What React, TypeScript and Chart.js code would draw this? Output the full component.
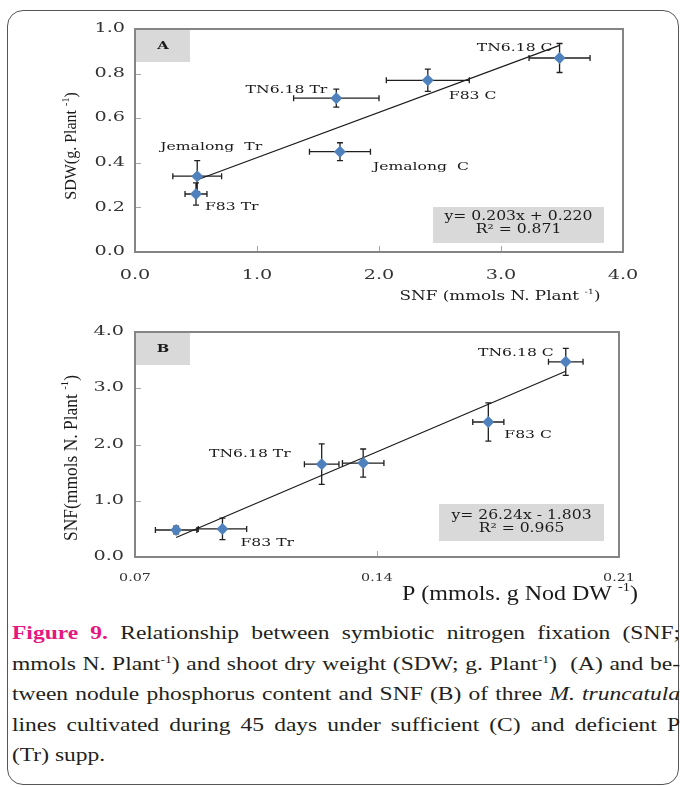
import React, { useEffect, useRef } from 'react';
import { Chart, registerables } from 'chart.js';

Chart.register(...registerables);

const WIDE = '"DejaVu Serif", serif';
const TIMES = '"Liberation Serif", "Times New Roman", serif';

// ---- Panel A: symbiotic N fixation (x) vs shoot dry weight (y) ----
const namesA = ['Jemalong  Tr', 'F83 Tr', 'TN6.18 Tr', 'Jemalong  C', 'F83 C', 'TN6.18 C'];
const snfA = [0.51, 0.5, 1.65, 1.68, 2.4, 3.48];
const snfErrA = [0.2, 0.09, 0.35, 0.25, 0.34, 0.25];
const sdwA = [0.34, 0.26, 0.69, 0.45, 0.77, 0.87];
const sdwErrA = [0.07, 0.05, 0.04, 0.04, 0.05, 0.065];
const fitA = { slope: 0.203, intercept: 0.22, r2: 0.871 };
const xTicksA = [0, 1, 2, 3, 4];
const yTicksA = [0, 0.2, 0.4, 0.6, 0.8, 1.0];

// ---- Panel B: nodule P content (x) vs symbiotic N fixation (y) ----
const namesB = ['', 'F83 Tr', 'TN6.18 Tr', '', 'F83 C', 'TN6.18 C'];
const pB = [0.0819, 0.0953, 0.124, 0.136, 0.1722, 0.1946];
const pErrB = [0.006, 0.007, 0.005, 0.006, 0.0045, 0.005];
const snfB = [0.48, 0.5, 1.65, 1.67, 2.4, 3.47];
const snfErrB = [0.07, 0.19, 0.36, 0.25, 0.34, 0.24];
const fitB = { slope: 26.24, intercept: -1.803, r2: 0.965 };
const xTicksB = [0.07, 0.14, 0.21];
const yTicksB = [0, 1, 2, 3, 4];

type Align = 'left' | 'right' | 'center';
type Part = { t: string; sup?: boolean; bold?: boolean };
type TextStyle = { family: string; size: number; sx: number; color: string; bold?: boolean };

// Draws a run of text parts (with optional superscripts), stretched horizontally by sx.
function drawRich(ctx: CanvasRenderingContext2D, parts: Part[], x: number, y: number, align: Align, s: TextStyle) {
  ctx.save();
  ctx.fillStyle = s.color;
  ctx.textBaseline = 'middle';
  ctx.textAlign = 'left';
  const fonts = parts.map((p) => {
    const size = p.sup ? Math.round(s.size * 0.62) : s.size;
    return `${p.bold || s.bold ? 'bold ' : ''}${size}px ${s.family}`;
  });
  const widths = parts.map((p, i) => {
    ctx.font = fonts[i];
    return ctx.measureText(p.t).width * s.sx;
  });
  const total = widths.reduce((a, b) => a + b, 0);
  let cx = align === 'center' ? x - total / 2 : align === 'right' ? x - total : x;
  parts.forEach((p, i) => {
    ctx.save();
    ctx.translate(cx, y + (p.sup ? -s.size * 0.38 : 0));
    ctx.scale(s.sx, 1);
    ctx.font = fonts[i];
    ctx.fillText(p.t, 0, 0);
    ctx.restore();
    cx += widths[i];
  });
  ctx.restore();
}

type LabelPos = { dx: number; dy: number; align: Align } | null;

interface PanelSpec {
  letter: string;
  names: string[];
  xs: number[];
  xErr: number[];
  ys: number[];
  yErr: number[];
  fit: { slope: number; intercept: number; r2: number };
  slopeDigits: number;
  xTicks: number[];
  yTicks: number[];
  xDigits: number;
  yDigits: number;
  height: number;
  padding: { left: number; top: number; right: number; bottom: number };
  labelPos: LabelPos[];
  eqBox: { dRight: number; dBottom: number; w: number; h: number; l1: number; l2: number };
  xTick: { dy: number; style: TextStyle };
  yTick: { dx: number; style: TextStyle };
  xTitle: { parts: Part[]; x: number; y: number; style: TextStyle };
  yTitle: { parts: Part[]; x: number; y: number; style: TextStyle };
}

const labelStyle: TextStyle = { family: WIDE, size: 11, sx: 1.42, color: '#1a1a1a' };
const eqStyle: TextStyle = { family: WIDE, size: 12, sx: 1.3, color: '#1a1a1a' };
const letterStyle: TextStyle = { family: WIDE, size: 11, sx: 1.35, color: '#1a1a1a', bold: true };

function decorPlugin(spec: PanelSpec) {
  return {
    id: 'panelDecor',
    beforeDatasetsDraw(chart: any) {
      const { ctx, chartArea: a } = chart;
      const sx = chart.scales.x;
      const sy = chart.scales.y;
      ctx.save();
      // panel letter box
      ctx.fillStyle = '#d9d9d9';
      ctx.fillRect(a.left + 1, a.top + 1, 54, 32);
      // regression equation box
      const eb = spec.eqBox;
      ctx.fillRect(a.right - eb.dRight - eb.w, a.bottom - eb.dBottom - eb.h, eb.w, eb.h);
      // inward tick marks
      ctx.strokeStyle = '#a6a6a6';
      ctx.lineWidth = 1;
      ctx.beginPath();
      spec.yTicks.forEach((v) => {
        const py = Math.round(sy.getPixelForValue(v)) + 0.5;
        ctx.moveTo(a.left, py);
        ctx.lineTo(a.left + 6, py);
      });
      spec.xTicks.forEach((v) => {
        const px = Math.round(sx.getPixelForValue(v)) + 0.5;
        ctx.moveTo(px, a.bottom);
        ctx.lineTo(px, a.bottom - 6);
      });
      ctx.stroke();
      // plot frame
      ctx.strokeStyle = '#858585';
      ctx.lineWidth = 2;
      ctx.strokeRect(a.left, a.top, a.right - a.left, a.bottom - a.top);
      // error bars
      ctx.strokeStyle = '#1f1f1f';
      ctx.lineWidth = 1.3;
      const cap = 3;
      ctx.beginPath();
      spec.xs.forEach((xv, i) => {
        const yv = spec.ys[i];
        const py = sy.getPixelForValue(yv);
        const px = sx.getPixelForValue(xv);
        const x0 = sx.getPixelForValue(xv - spec.xErr[i]);
        const x1 = sx.getPixelForValue(xv + spec.xErr[i]);
        const y0 = sy.getPixelForValue(yv - spec.yErr[i]);
        const y1 = sy.getPixelForValue(yv + spec.yErr[i]);
        ctx.moveTo(x0, py); ctx.lineTo(x1, py);
        ctx.moveTo(x0, py - cap); ctx.lineTo(x0, py + cap);
        ctx.moveTo(x1, py - cap); ctx.lineTo(x1, py + cap);
        ctx.moveTo(px, y0); ctx.lineTo(px, y1);
        ctx.moveTo(px - cap, y0); ctx.lineTo(px + cap, y0);
        ctx.moveTo(px - cap, y1); ctx.lineTo(px + cap, y1);
      });
      ctx.stroke();
      ctx.restore();
    },
    afterDatasetsDraw(chart: any) {
      const { ctx, chartArea: a } = chart;
      const sx = chart.scales.x;
      const sy = chart.scales.y;
      // tick labels from the scales' ticks
      sy.ticks.forEach((t: any) => {
        drawRich(ctx, [{ t: t.value.toFixed(spec.yDigits) }], a.left - spec.yTick.dx, sy.getPixelForValue(t.value), 'right', spec.yTick.style);
      });
      sx.ticks.forEach((t: any) => {
        drawRich(ctx, [{ t: t.value.toFixed(spec.xDigits) }], sx.getPixelForValue(t.value), a.bottom + spec.xTick.dy, 'center', spec.xTick.style);
      });
      // axis titles
      drawRich(ctx, spec.xTitle.parts, spec.xTitle.x, spec.xTitle.y, 'center', spec.xTitle.style);
      ctx.save();
      ctx.translate(spec.yTitle.x, spec.yTitle.y);
      ctx.rotate(-Math.PI / 2);
      drawRich(ctx, spec.yTitle.parts, 0, 0, 'center', spec.yTitle.style);
      ctx.restore();
      // panel letter
      drawRich(ctx, [{ t: spec.letter }], a.left + 28, a.top + 17, 'center', letterStyle);
      // point labels
      spec.names.forEach((name, i) => {
        const lp = spec.labelPos[i];
        if (!name || !lp) return;
        const px = sx.getPixelForValue(spec.xs[i]);
        const py = sy.getPixelForValue(spec.ys[i]);
        drawRich(ctx, [{ t: name }], px + lp.dx, py + lp.dy, lp.align, labelStyle);
      });
      // regression equation
      const f = spec.fit;
      const eb = spec.eqBox;
      const bx = a.right - eb.dRight - eb.w / 2;
      const by = a.bottom - eb.dBottom - eb.h;
      const sign = f.intercept < 0 ? ' - ' : ' + ';
      const eq = `y= ${f.slope.toFixed(spec.slopeDigits)}x${sign}${Math.abs(f.intercept).toFixed(3)}`;
      drawRich(ctx, [{ t: eq }], bx, by + eb.l1, 'center', eqStyle);
      drawRich(ctx, [{ t: `R² = ${f.r2.toFixed(3)}` }], bx, by + eb.l2, 'center', eqStyle);
    },
  };
}

function buildConfig(spec: PanelSpec): any {
  const xMin = Math.min(...spec.xs);
  const xMax = Math.max(...spec.xs);
  const trend = [xMin, xMax].map((x) => ({ x, y: spec.fit.slope * x + spec.fit.intercept }));
  const points = spec.xs.map((x, i) => ({ x, y: spec.ys[i] }));
  const xT = spec.xTicks;
  const yT = spec.yTicks;
  return {
    type: 'scatter',
    data: {
      datasets: [
        {
          data: trend,
          showLine: true,
          borderColor: '#1a1a1a',
          borderWidth: 1.2,
          pointRadius: 0,
          order: 2,
        },
        {
          data: points,
          pointStyle: 'rectRot',
          pointRadius: 6,
          backgroundColor: '#4f81bd',
          borderColor: '#4f81bd',
          borderWidth: 0,
          order: 1,
        },
      ],
    },
    options: {
      animation: false,
      responsive: false,
      maintainAspectRatio: false,
      layout: { padding: spec.padding },
      plugins: { legend: { display: false }, tooltip: { enabled: false } },
      scales: {
        x: {
          type: 'linear',
          min: xT[0],
          max: xT[xT.length - 1],
          afterBuildTicks: (s: any) => { s.ticks = xT.map((v) => ({ value: v })); },
          afterFit: (s: any) => { s.height = 40; },
          ticks: { display: false },
          grid: { display: false, drawTicks: false },
          border: { display: false },
        },
        y: {
          type: 'linear',
          min: yT[0],
          max: yT[yT.length - 1],
          afterBuildTicks: (s: any) => { s.ticks = yT.map((v) => ({ value: v })); },
          afterFit: (s: any) => { s.width = 60; },
          ticks: { display: false },
          grid: { display: false, drawTicks: false },
          border: { display: false },
        },
      },
    },
    plugins: [decorPlugin(spec)],
  };
}

const tickStyleA: TextStyle = { family: WIDE, size: 12, sx: 1.6, color: '#333333' };

const specA: PanelSpec = {
  letter: 'A',
  names: namesA,
  xs: snfA,
  xErr: snfErrA,
  ys: sdwA,
  yErr: sdwErrA,
  fit: fitA,
  slopeDigits: 3,
  xTicks: xTicksA,
  yTicks: yTicksA,
  xDigits: 1,
  yDigits: 1,
  height: 305,
  padding: { left: 75, top: 29, right: 57, bottom: 13 },
  labelPos: [
    { dx: 14, dy: -29, align: 'center' },
    { dx: 9, dy: 13, align: 'left' },
    { dx: -9, dy: -8, align: 'right' },
    { dx: 33, dy: 15, align: 'left' },
    { dx: 21, dy: 16, align: 'left' },
    { dx: -7, dy: -10, align: 'right' },
  ],
  eqBox: { dRight: 19, dBottom: 9, w: 171, h: 36, l1: 10, l2: 23 },
  xTick: { dy: 24, style: tickStyleA },
  yTick: { dx: 10, style: tickStyleA },
  xTitle: {
    parts: [{ t: 'SNF (mmols N. Plant ' }, { t: '-1', sup: true }, { t: ')' }],
    x: 500,
    y: 297,
    style: { family: WIDE, size: 12, sx: 1.4, color: '#1a1a1a' },
  },
  yTitle: {
    parts: [{ t: 'SDW(g. Plant ' }, { t: '-1', sup: true }, { t: ')' }],
    x: 72,
    y: 146,
    style: { family: TIMES, size: 16, sx: 1, color: '#1a1a1a' },
  },
};

const specB: PanelSpec = {
  letter: 'B',
  names: namesB,
  xs: pB,
  xErr: pErrB,
  ys: snfB,
  yErr: snfErrB,
  fit: fitB,
  slopeDigits: 2,
  xTicks: xTicksB,
  yTicks: yTicksB,
  xDigits: 2,
  yDigits: 1,
  height: 305,
  padding: { left: 75, top: 27, right: 61, bottom: 13 },
  labelPos: [
    null,
    { dx: 18, dy: 14, align: 'left' },
    { dx: -31, dy: -10, align: 'right' },
    null,
    { dx: 16, dy: 13, align: 'left' },
    { dx: -12, dy: -9, align: 'right' },
  ],
  eqBox: { dRight: 15, dBottom: 16, w: 165, h: 37, l1: 12, l2: 25 },
  xTick: { dy: 21, style: { family: WIDE, size: 11, sx: 1.3, color: '#333333' } },
  yTick: { dx: 11, style: tickStyleA },
  xTitle: {
    parts: [{ t: 'P (mmols. g Nod DW ' }, { t: '-1', sup: true }, { t: ')' }],
    x: 520,
    y: 290,
    style: { family: TIMES, size: 20, sx: 1.2, color: '#1a1a1a' },
  },
  yTitle: {
    parts: [{ t: 'SNF(mmols N. Plant ' }, { t: '-1', sup: true }, { t: ')' }],
    x: 72,
    y: 153,
    style: { family: TIMES, size: 18, sx: 0.97, color: '#1a1a1a' },
  },
};

function Panel({ spec, top }: { spec: PanelSpec; top: number }) {
  const ref = useRef<HTMLCanvasElement>(null);
  useEffect(() => {
    const chart = new Chart(ref.current as HTMLCanvasElement, buildConfig(spec));
    return () => chart.destroy();
  }, [spec]);
  return (
    <canvas
      ref={ref}
      width={680}
      height={spec.height}
      style={{ position: 'absolute', left: 0, top, width: 680, height: spec.height }}
    />
  );
}

const lineStyle: React.CSSProperties = { textAlign: 'justify', textAlignLast: 'justify' };
const supStyle: React.CSSProperties = { fontSize: 11, verticalAlign: 'super', lineHeight: 0 };

// Caption set in a narrow column and widened to the full text block.
const CAPTION_W = 540;
const CAPTION_SCALE = 668 / CAPTION_W;

function Caption() {
  return (
    <div
      style={{
        position: 'absolute',
        left: 12,
        top: 618,
        width: CAPTION_W,
        transform: `scaleX(${CAPTION_SCALE})`,
        transformOrigin: 'left top',
        fontFamily: TIMES,
        fontSize: 19,
        lineHeight: '30.5px',
        color: '#231f20',
      }}
    >
      <div style={lineStyle}>
        <span style={{ color: '#e6177f', fontWeight: 'bold' }}>Figure 9.</span> Relationship between symbiotic nitrogen fixation (SNF;
      </div>
      <div style={lineStyle}>
        mmols N. Plant<sup style={supStyle}>-1</sup>) and shoot dry weight (SDW; g. Plant<sup style={supStyle}>-1</sup>)&nbsp; (A) and be-
      </div>
      <div style={lineStyle}>
        tween nodule phosphorus content and SNF (B) of three <i>M. truncatula</i>
      </div>
      <div style={lineStyle}>lines cultivated during 45 days under sufficient (C) and deficient P</div>
      <div>(Tr) supp.</div>
    </div>
  );
}

export default function App() {
  return (
    <div
      style={{
        position: 'absolute',
        left: 0,
        top: 0,
        width: 680,
        height: 787,
        overflow: 'hidden',
        background: '#ffffff',
      }}
    >
      <div
        style={{
          position: 'absolute',
          left: 7,
          top: 10,
          width: 672,
          height: 775,
          boxSizing: 'border-box',
          border: '1.5px solid #555555',
          borderRadius: 16,
        }}
      />
      <Panel spec={specA} top={0} />
      <Panel spec={specB} top={305} />
      <Caption />
    </div>
  );
}
